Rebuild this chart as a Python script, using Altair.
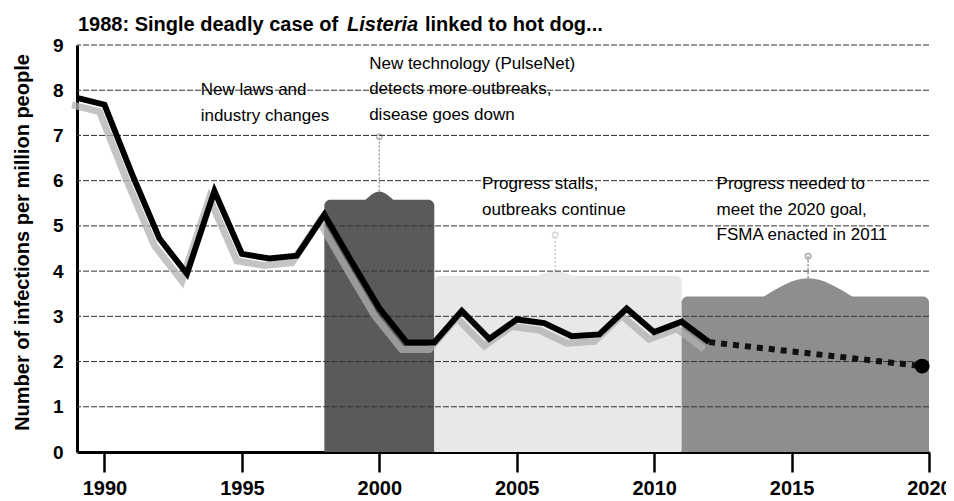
import altair as alt
import pandas as pd

# ---------------- data ----------------
years = list(range(1989, 2013))
rate = [7.83, 7.68, 6.15, 4.72, 3.94, 5.77, 4.38, 4.28, 4.34, 5.25, 4.2, 3.18,
        2.42, 2.42, 3.12, 2.5, 2.93, 2.85, 2.56, 2.6, 3.17, 2.65, 2.88, 2.43]

proj_years = [2012, 2019.75]
proj_rate = [2.43, 1.9]
goal_year = [2019.75]
goal_rate = [1.9]

period_name = ["laws", "stalls", "needed"]
period_start = [1998, 2002, 2011]
period_end = [2002, 2011, 2020]
period_top = [5.58, 3.9, 3.44]
period_color = ["#5a5a5a", "#e8e8e8", "#8e8e8e"]

bump_left = [1999.5, 2005.8, 2014.0]
bump_peak = [2000.0, 2006.4, 2015.6]
bump_right = [2000.5, 2007.0, 2017.2]
bump_top = [5.76, 4.0, 3.84]
pin_top = [6.97, 4.8, 4.33]
pin_color = ["#9a9a9a", "#c8c8c8", "#8a8a8a"]

grid_values = [1, 2, 3, 4, 5, 6, 7, 8, 9]
x_ticks = [1990, 1995, 2000, 2005, 2010, 2015, 2020]
y_ticks = [0, 1, 2, 3, 4, 5, 6, 7, 8, 9]

notes = ["New laws and\nindustry changes",
         "New technology (PulseNet)\ndetects more outbreaks,\ndisease goes down",
         "Progress stalls,\noutbreaks continue",
         "Progress needed to\nmeet the 2020 goal,\nFSMA enacted in 2011"]
note_year = [1993.5, 1999.63, 2003.74, 2012.27]
note_value = [7.89, 8.47, 5.81, 5.81]

title_parts = ["1988: Single deadly case of ", "Listeria", "linked to hot dog..."]
y_title = "Number of infections per million people"

FONT = "Liberation Sans"

# ---------------- tables ----------------
line_df = pd.DataFrame({"year": years, "rate": rate})
proj_df = pd.DataFrame({"year": proj_years, "rate": proj_rate})
goal_df = pd.DataFrame({"year": goal_year, "rate": goal_rate})
period_df = pd.DataFrame({"name": period_name, "start": period_start,
                          "end": period_end, "top": period_top})
bump_rows = []
for i, n in enumerate(period_name):
    bump_rows.append({"name": n, "x": bump_left[i], "y": period_top[i], "base": period_top[i] - 0.3})
    bump_rows.append({"name": n, "x": bump_peak[i], "y": bump_top[i], "base": period_top[i] - 0.3})
    bump_rows.append({"name": n, "x": bump_right[i], "y": period_top[i], "base": period_top[i] - 0.3})
bump_df = pd.DataFrame(bump_rows)
pin_df = pd.DataFrame({"name": period_name, "x": bump_peak, "low": bump_top,
                       "high": pin_top, "pc": pin_color})
grid_df = pd.DataFrame({"v": grid_values})
note_df = pd.DataFrame({"label": notes, "year": note_year, "value": note_value})

xscale = alt.Scale(domain=[1989, 2020], nice=False, zero=False)
yscale = alt.Scale(domain=[0, 9], nice=False, zero=True)
color_scale = alt.Scale(domain=period_name, range=period_color)

x_axis = alt.Axis(values=x_ticks, format="d", title=None, grid=False,
                  tickSize=20, tickWidth=2.5, tickColor="black",
                  domainColor="black", domainWidth=3,
                  labelFont=FONT, labelFontSize=20, labelFontWeight="bold",
                  labelColor="black", labelPadding=6, labelFlush=False,
                  labelOverlap=False)
y_axis = alt.Axis(values=y_ticks, grid=False, ticks=False,
                  domainColor="black", domainWidth=3,
                  labelFont=FONT, labelFontSize=19, labelFontWeight="bold",
                  labelColor="black", labelPadding=14,
                  title=y_title, titleFont=FONT, titleFontSize=20,
                  titleFontWeight="bold", titleColor="black",
                  titleX=-55, titleY=197, titleAngle=270,
                  titleAlign="center", titleBaseline="middle")

base_axes = alt.Chart(line_df).mark_line(opacity=0).encode(
    x=alt.X("year:Q", scale=xscale, axis=x_axis),
    y=alt.Y("rate:Q", scale=yscale, axis=y_axis),
)

regions = alt.Chart(period_df).mark_rect(
    cornerRadiusTopLeft=6, cornerRadiusTopRight=6
).encode(
    x=alt.X("start:Q", scale=xscale),
    x2="end:Q",
    y=alt.Y("top:Q", scale=yscale),
    y2=alt.datum(0),
    color=alt.Color("name:N", scale=color_scale, legend=None),
)

bumps = alt.Chart(bump_df).mark_area(interpolate="monotone").encode(
    x=alt.X("x:Q", scale=xscale),
    y=alt.Y("y:Q", scale=yscale),
    y2="base:Q",
    color=alt.Color("name:N", scale=color_scale, legend=None),
    detail="name:N",
)

pins = alt.Chart(pin_df).mark_rule(strokeWidth=1.5, strokeDash=[2, 2]).encode(
    x=alt.X("x:Q", scale=xscale),
    y=alt.Y("low:Q", scale=yscale),
    y2="high:Q",
    color=alt.Color("pc:N", scale=None),
)
pin_heads = alt.Chart(pin_df).mark_point(size=30, strokeWidth=1.5, filled=False).encode(
    x=alt.X("x:Q", scale=xscale),
    y=alt.Y("high:Q", scale=yscale),
    color=alt.Color("pc:N", scale=None),
)

grid = alt.Chart(grid_df).mark_rule(color="#333333", strokeWidth=1, strokeDash=[6, 2]).encode(
    y=alt.Y("v:Q", scale=yscale)
)

shadow = alt.Chart(line_df).mark_line(
    color="#b0b0b0", strokeWidth=7, xOffset=-5, yOffset=7, opacity=0.75
).encode(x=alt.X("year:Q", scale=xscale), y=alt.Y("rate:Q", scale=yscale))

main_line = alt.Chart(line_df).mark_line(
    color="black", strokeWidth=6, strokeJoin="miter"
).encode(x=alt.X("year:Q", scale=xscale), y=alt.Y("rate:Q", scale=yscale))

proj = alt.Chart(proj_df).mark_line(
    color="#111111", strokeWidth=6, strokeDash=[6, 6]
).encode(x=alt.X("year:Q", scale=xscale), y=alt.Y("rate:Q", scale=yscale))

goal = alt.Chart(goal_df).mark_point(
    filled=True, size=220, color="black", opacity=1
).encode(x=alt.X("year:Q", scale=xscale), y=alt.Y("rate:Q", scale=yscale))

note_text = alt.Chart(note_df).mark_text(
    align="left", baseline="alphabetic", font=FONT, fontSize=17,
    color="black", lineBreak="\n", lineHeight=25.5
).encode(
    x=alt.X("year:Q", scale=xscale),
    y=alt.Y("value:Q", scale=yscale),
    text="label:N",
)

t1 = alt.Chart(pd.DataFrame({"t": [title_parts[0]]})).mark_text(
    align="left", baseline="middle", font=FONT, fontSize=20, fontWeight="bold",
    color="black"
).encode(x=alt.value(1), y=alt.value(-20), text="t:N")
t2 = alt.Chart(pd.DataFrame({"t": [title_parts[1]]})).mark_text(
    align="left", baseline="middle", font=FONT, fontSize=20, fontWeight="bold",
    fontStyle="italic", color="black"
).encode(x=alt.value(270), y=alt.value(-20), text="t:N")
t3 = alt.Chart(pd.DataFrame({"t": [title_parts[2]]})).mark_text(
    align="left", baseline="middle", font=FONT, fontSize=20, fontWeight="bold",
    color="black"
).encode(x=alt.value(348), y=alt.value(-20), text="t:N")

chart = alt.layer(
    base_axes, regions, bumps, pins, pin_heads, grid, shadow, main_line, proj,
    goal, note_text, t1, t2, t3
).properties(
    width=852, height=407,
    autosize=alt.AutoSizeParams(type="none"),
    padding={"left": 69, "top": 37, "right": 17, "bottom": 48},
    background="white",
).configure_view(stroke=None)

chart.save("out.html", embed_options={"renderer": "svg", "actions": False})
